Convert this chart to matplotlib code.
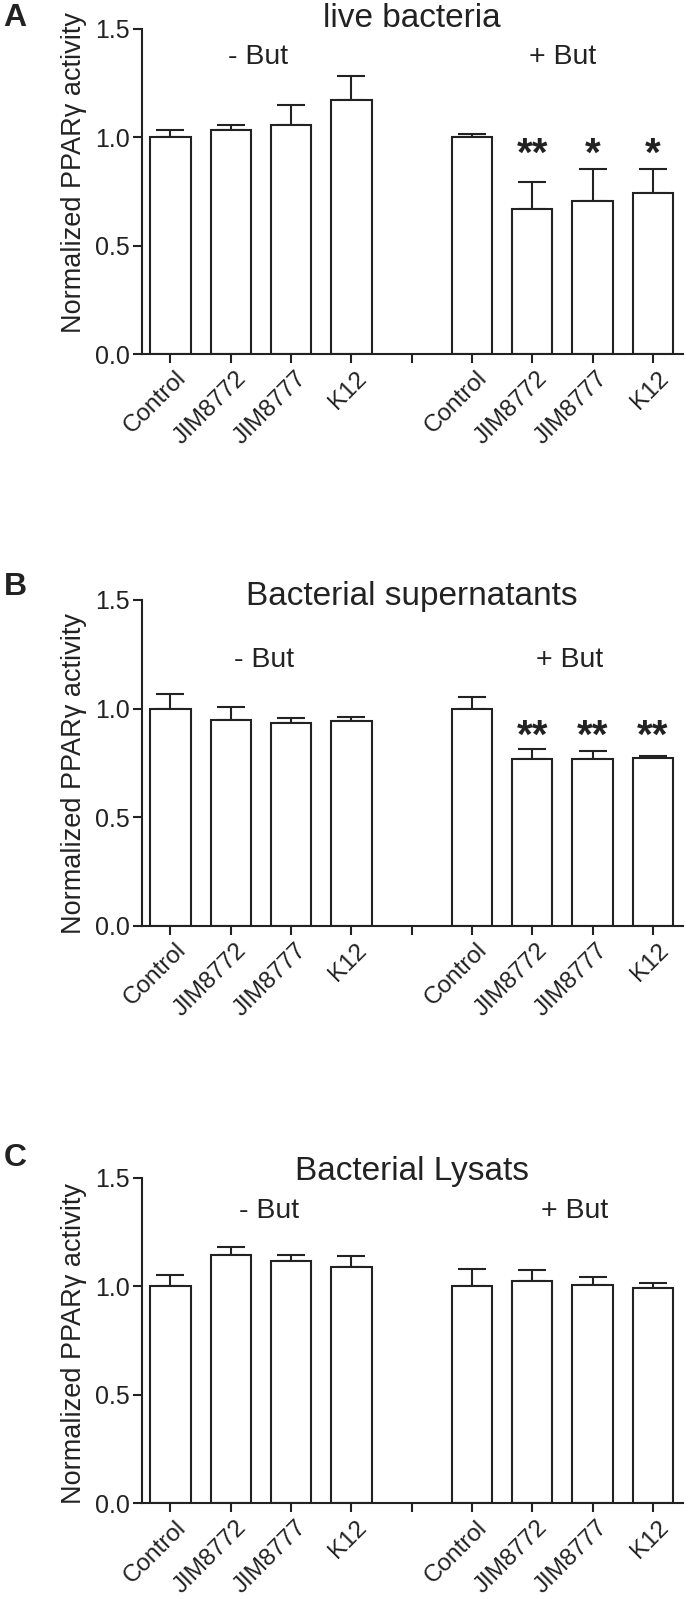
import matplotlib
matplotlib.use('Agg')
import matplotlib.pyplot as plt
import matplotlib.transforms as mtransforms

plt.rcParams['font.family'] = ['Liberation Sans', 'DejaVu Sans']

# strains on the x axis
strains = ['Control', 'JIM8772', 'JIM8777', 'K12']

# A - live bacteria
live_minus = [1.0, 1.035, 1.057, 1.170]
live_minus_err = [0.032, 0.022, 0.092, 0.115]
live_plus = [1.0, 0.670, 0.706, 0.745]
live_plus_err = [0.017, 0.123, 0.150, 0.111]
live_stars = ['', '**', '*', '*']

# B - bacterial supernatants
sup_minus = [1.0, 0.949, 0.934, 0.943]
sup_minus_err = [0.069, 0.058, 0.023, 0.020]
sup_plus = [1.0, 0.768, 0.766, 0.775]
sup_plus_err = [0.052, 0.046, 0.037, 0.008]
sup_stars = ['', '**', '**', '**']

# C - bacterial lysats
lys_minus = [1.0, 1.145, 1.119, 1.089]
lys_minus_err = [0.052, 0.035, 0.026, 0.051]
lys_plus = [1.0, 1.025, 1.007, 0.991]
lys_plus_err = [0.078, 0.049, 0.034, 0.026]
lys_stars = ['', '', '', '']

ink = '#222222'

fig = plt.figure(figsize=(6.88, 15.99), dpi=100)

# letter, title, data..., axes rect, title baseline, sub-label baseline, sub-label x's,
# star baseline, ylabel centre, letter gap above axes (px)
panels = [
    ('A', 'live bacteria', live_minus, live_minus_err, live_plus, live_plus_err, live_stars,
     [0.2057, 0.7786, 0.787, 0.2033], 1.51, 1.338, (1.45, 6.5), 0.868, 0.557, 11),
    ('B', 'Bacterial supernatants', sup_minus, sup_minus_err, sup_plus, sup_plus_err, sup_stars,
     [0.2057, 0.4209, 0.787, 0.2039], 1.477, 1.193, (1.55, 6.62), 0.82, 0.469, 13),
    ('C', 'Bacterial Lysats', lys_minus, lys_minus_err, lys_plus, lys_plus_err, lys_stars,
     [0.2057, 0.0600, 0.787, 0.2033], 1.49, 1.317, (1.64, 6.7), 0.9, 0.49, 20),
]

for (letter, title, minus, minus_err, plus, plus_err, stars, rect, title_y, sub_y,
     sub_x, star_y, ylab_y, letter_gap) in panels:
    ax = fig.add_axes(rect)
    xm = [0, 1, 2, 3]
    xp = [5, 6, 7, 8]
    for xs, vals, errs in [(xm, minus, minus_err), (xp, plus, plus_err)]:
        ax.bar(xs, vals, width=0.67, color='white', edgecolor=ink, linewidth=1.5, zorder=2)
        ax.errorbar(xs, vals, yerr=[[0] * len(errs), errs], fmt='none', ecolor=ink,
                    elinewidth=1.5, capsize=10, capthick=1.5, zorder=1)
    for x, s in zip(xp, stars):
        if s:
            ax.text(x, star_y, s, ha='center', va='baseline', fontsize=29,
                    fontweight='bold', color=ink)

    ax.set_xlim(-0.48, 8.5)
    ax.set_ylim(0, 1.5)
    ax.set_yticks([0, 0.5, 1.0, 1.5])
    ax.set_yticklabels(['0.0', '0.5', '1.0', '1.5'])
    ax.set_xticks(range(9))
    ax.set_xticklabels(strains + [''] + strains, rotation=45, ha='right',
                       rotation_mode='anchor')
    ax.tick_params(axis='both', direction='out', length=6.5, width=1.5, color=ink,
                   labelcolor=ink)
    ax.tick_params(axis='y', labelsize=18, pad=2)
    ax.tick_params(axis='x', labelsize=17.5, pad=3)
    offset = mtransforms.ScaledTranslation(3 / 72, 0, fig.dpi_scale_trans)
    for lab in ax.get_xticklabels():
        lab.set_transform(lab.get_transform() + offset)

    for side in ['top', 'right']:
        ax.spines[side].set_visible(False)
    for side in ['left', 'bottom']:
        ax.spines[side].set_linewidth(1.5)
        ax.spines[side].set_color(ink)

    ax.set_ylabel('Normalized PPAR\u03b3 activity', fontsize=19.5, color=ink)
    ax.yaxis.set_label_coords(-0.1, ylab_y)

    ax.text(4, title_y, title, ha='center', va='baseline', fontsize=24, color=ink)
    ax.text(sub_x[0], sub_y, '- But', ha='center', va='baseline', fontsize=20.5, color=ink)
    ax.text(sub_x[1], sub_y, '+ But', ha='center', va='baseline', fontsize=20.5, color=ink)

    top_px = (1 - rect[1] - rect[3]) * 1599
    fig.text(15 / 688, 1 - (top_px - letter_gap) / 1599, letter, ha='center', va='center',
             fontsize=23, fontweight='bold', color=ink)

fig.savefig('out.png', dpi=100)
